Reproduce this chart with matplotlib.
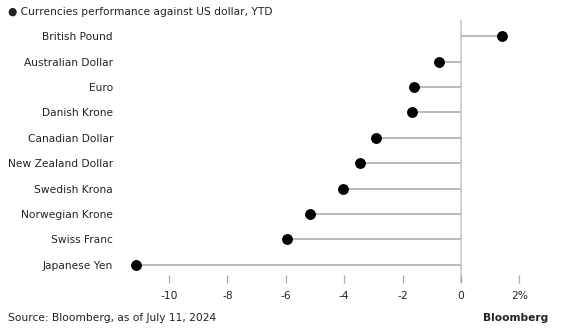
import matplotlib.pyplot as plt
import numpy as np

# YTD change against the US dollar, %
currencies = ["British Pound", "Australian Dollar", "Euro", "Danish Krone",
              "Canadian Dollar", "New Zealand Dollar", "Swedish Krona",
              "Norwegian Krone", "Swiss Franc", "Japanese Yen"]
ytd_change = [1.39, -0.75, -1.6, -1.67, -2.91, -3.47, -4.03, -5.17, -5.97, -11.15]

tick_values = [-10, -8, -6, -4, -2, 0, 2]
tick_labels = ["-10", "-8", "-6", "-4", "-2", "0", "2%"]

plt.rcParams['font.family'] = ['DejaVu Sans']
text_color = "#222222"
fs = 7.7

fig = plt.figure(figsize=(5.61, 3.36), dpi=100)
ax = fig.add_axes([0.214, 0.158, 0.757, 0.782])

rows = np.arange(len(currencies))
ax.axvline(0, color="#cccccc", lw=1.3, zorder=1)
ax.hlines(rows, 0, ytd_change, color="#b4b4b4", lw=1.3, zorder=2)
ax.plot(ytd_change, rows, "o", color="black", ms=6.8, zorder=3)

ax.set_xlim(-11.68, 2.87)
ax.set_ylim(9.71, -0.63)

ax.set_yticks(rows)
ax.set_yticklabels(currencies, fontsize=fs, color=text_color)
ax.tick_params(axis="y", length=0, pad=5)

ax.set_xticks(tick_values)
ax.set_xticklabels(tick_labels, fontsize=fs, color=text_color)
ax.tick_params(axis="x", direction="in", length=5.5, width=0.9,
               color="#aaaaaa", pad=6)

for side in ["top", "right", "bottom", "left"]:
    ax.spines[side].set_visible(False)

fig.text(0.014, 0.964, "\u25cf Currencies performance against US dollar, YTD",
         fontsize=fs, color=text_color, va="center")
fig.text(0.014, 0.053, "Source: Bloomberg, as of July 11, 2024",
         fontsize=fs, color=text_color, va="center")
fig.text(0.977, 0.053, "Bloomberg", fontsize=fs, color=text_color,
         va="center", ha="right", fontweight="bold")

fig.savefig("out.png", dpi=100)
